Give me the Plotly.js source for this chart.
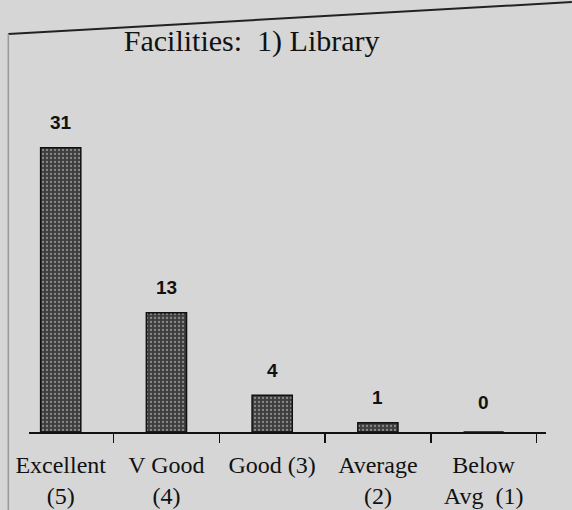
<!DOCTYPE html>
<html>
<head>
<meta charset="utf-8">
<script src="https://cdn.plot.ly/plotly-3.0.1.min.js"></script>
<style>html,body{margin:0;padding:0;background:#d6d6d6;}</style>
</head>
<body>
<div id="chart" style="width:572px;height:510px;"></div>
<script>
const categories = ["Excellent<br>(5)", "V Good<br>(4)", "Good (3)", "Average<br>(2)", "Below<br>Avg  (1)"];
const counts = [31, 13, 4, 1, 0];
const chartTitle = "Facilities:  1) Library";

const trace = {
  type: "bar",
  x: categories,
  y: counts,
  width: 0.38,
  marker: {
    color: "#4a4a4a",
    line: {color: "#111", width: 1.5},
    pattern: {shape: ".", fgcolor: "#8a8a8a", bgcolor: "#3e3e3e", size: 4, solidity: 0.25}
  },
  hoverinfo: "skip"
};

const valueLabels = categories.map((c, i) => ({
  x: c, y: counts[i], xref: "x", yref: "y",
  text: "<b>" + counts[i] + "</b>",
  showarrow: false, yanchor: "middle", yshift: counts[i] === 0 ? 30 : 25,
  font: {family: "Liberation Sans, Arial, sans-serif", size: 19, color: "#111"}
}));

const layout = {
  width: 572, height: 510,
  paper_bgcolor: "#d6d6d6",
  plot_bgcolor: "#d6d6d6",
  margin: {l: 29, r: 26, t: 100, b: 78},
  showlegend: false,
  title: {
    text: chartTitle,
    font: {family: "Liberation Serif, Times New Roman, serif", size: 30, color: "#111"},
    x: 0.44, xref: "container", xanchor: "center",
    y: 0.92, yref: "container", yanchor: "middle"
  },
  xaxis: {
    range: [-0.30, 4.59],
    showline: true, linecolor: "#111", linewidth: 2,
    ticks: "outside", tickson: "boundaries", ticklen: 9, tickwidth: 1.5, tickcolor: "#111",
    ticklabelstandoff: 10,
    tickfont: {family: "Liberation Serif, Times New Roman, serif", size: 24, color: "#111"},
    showgrid: false, zeroline: false, fixedrange: true
  },
  yaxis: {
    range: [0, 36.2], visible: false, showgrid: false, zeroline: false, fixedrange: true
  },
  annotations: valueLabels,
  shapes: [
    {type: "line", xref: "paper", yref: "paper", x0: -0.04, x1: 1.05, y0: 1.199, y1: 1.295,
     line: {color: "#222", width: 2}},
    {type: "line", xref: "paper", yref: "paper", x0: -0.04, x1: -0.04, y0: 1.199, y1: -0.3,
     line: {color: "#999", width: 1.5}}
  ]
};

Plotly.newPlot("chart", [trace], layout, {displayModeBar: false, staticPlot: true});
</script>
</body>
</html>
